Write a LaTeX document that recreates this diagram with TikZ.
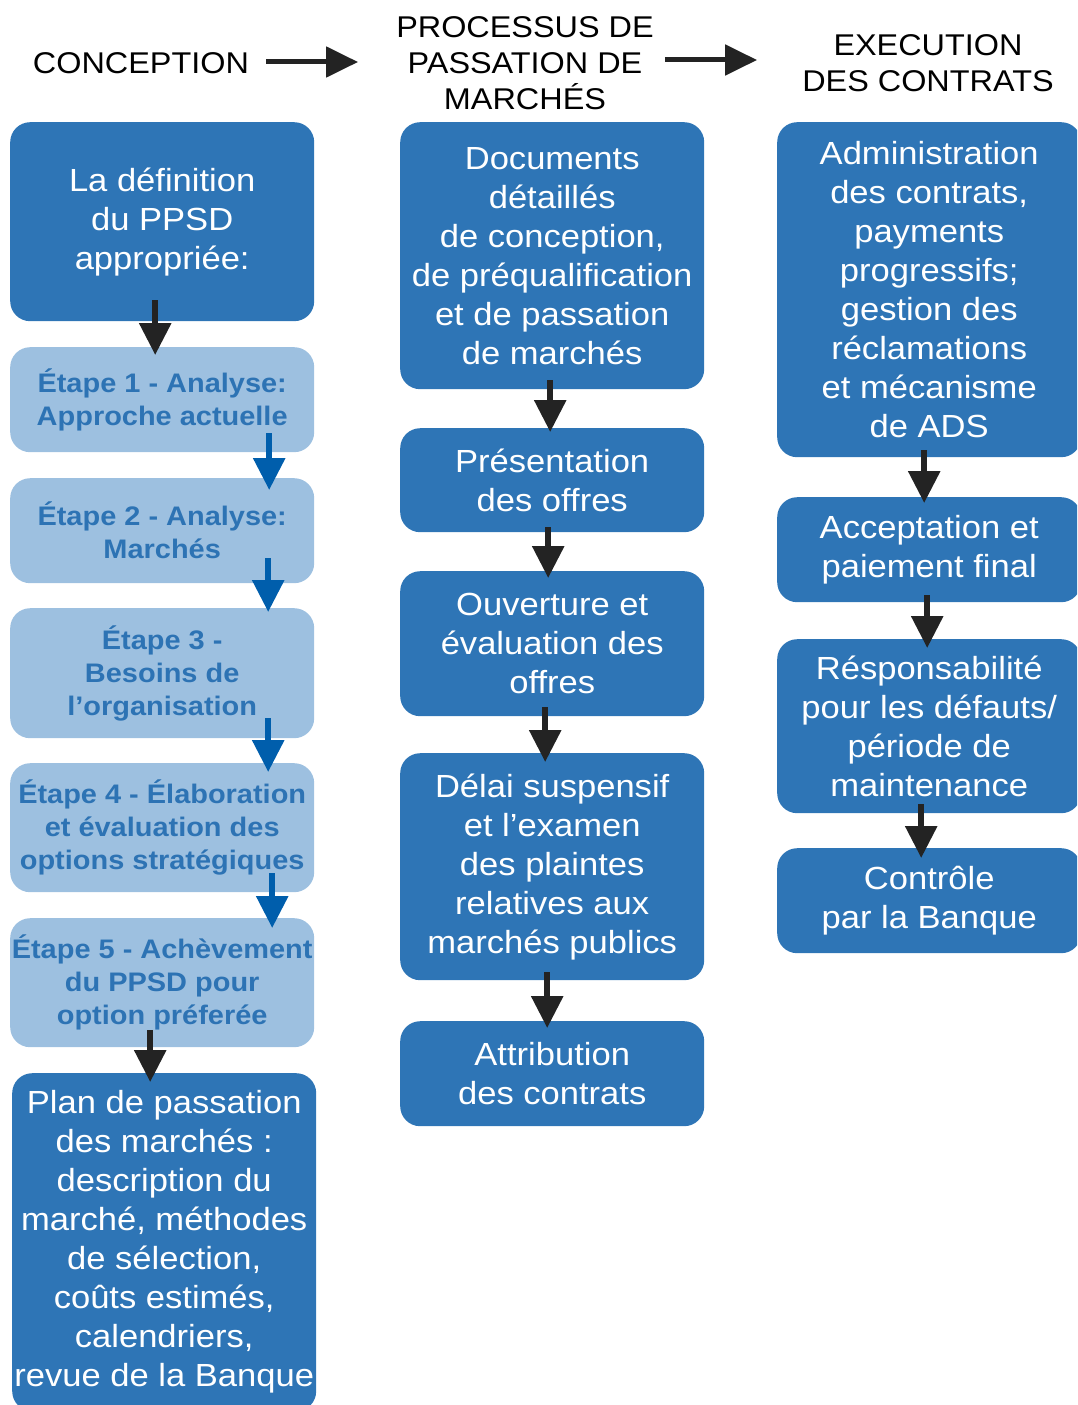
\documentclass[tikz,border=0pt]{standalone}
\usepackage{fontspec}
\setmainfont[FakeStretch=1.08]{Liberation Sans}
\usepackage{tikz}
\usepackage{xcolor}
\usetikzlibrary{positioning, arrows.meta}
\definecolor{phblue}{RGB}{46, 117, 182}
\definecolor{stlight}{RGB}{157, 192, 224}
\definecolor{sttext}{RGB}{45, 115, 180}
\definecolor{arblue}{RGB}{0, 94, 172}
\definecolor{ardark}{RGB}{35, 35, 35}
\tikzset{
    phasebox/.style={rectangle, rounded corners=20pt, fill=phblue, text=white, minimum width=304pt, inner sep=0pt, align=center, anchor=north west, font=\fontsize{32}{39}\selectfont},
    stepbox/.style={phasebox, fill=stlight, text=sttext, font=\bfseries\fontsize{26.8}{33}\selectfont},
    headnode/.style={align=center, inner sep=0pt, font=\fontsize{30}{36}\selectfont},
    darkarr/.style={-{Triangle[length=32pt, width=31pt]}, line width=6pt, draw=ardark},
    bluearr/.style={darkarr, draw=arblue},
    headarr/.style={-{Triangle[length=32pt, width=30pt]}, line width=5pt, draw=ardark}
}
\begin{document}
\begin{tikzpicture}[x=1pt, y=-1pt]
    \useasboundingbox (0,0) rectangle (1077,1405);
    \clip (0,0) rectangle (1077,1405);
    \node[headnode] (conc) at (141,63) {CONCEPTION};
    \node[headnode] (proc) at (525,63) {PROCESSUS DE\\PASSATION DE\\MARCHÉS};
    \node[headnode] (exec) at (928,63) {EXECUTION\\DES CONTRATS};
    \draw[headarr] ([shift={(17,-1)}]conc.east) -- ([shift={(-38,-1)}]proc.west);
    \draw[headarr] ([shift={(11,-3)}]proc.east) -- ([shift={(-45,-3)}]exec.west);

    \node[phasebox, minimum height=199pt] (def) at (10,122) {La définition\\du PPSD\\appropriée:};
    \node[stepbox, minimum height=105pt] (et1) at (10,347) {Étape 1 - Analyse:\\Approche actuelle};
    \node[stepbox, minimum height=105pt] (et2) at (10,478) {Étape 2 - Analyse:\\Marchés};
    \node[stepbox, minimum height=130pt] (et3) at (10,608) {Étape 3 -\\Besoins de\\l’organisation};
    \node[stepbox, minimum height=129pt] (et4) at (10,763) {Étape 4 - Élaboration\\et évaluation des\\options stratégiques};
    \node[stepbox, minimum height=129pt] (et5) at (10,918) {Étape 5 - Achèvement\\du PPSD pour\\option préferée};
    \node[phasebox, minimum height=338pt] (plan) at (12,1073) {Plan de passation\\des marchés :\\description du\\marché, méthodes\\de sélection,\\coûts estimés,\\calendriers,\\revue de la Banque};

    \node[phasebox, minimum height=267pt] (docs) at (400,122) {Documents\\détaillés\\de conception,\\de préqualification\\et de passation\\de marchés};
    \node[phasebox, minimum height=104pt] (pres) at (400,428) {Présentation\\des offres};
    \node[phasebox, minimum height=145pt] (ouv) at (400,571) {Ouverture et\\évaluation des\\offres};
    \node[phasebox, minimum height=227pt] (delai) at (400,753) {Délai suspensif\\et l’examen\\des plaintes\\relatives aux\\marchés publics};
    \node[phasebox, minimum height=105pt] (attr) at (400,1021) {Attribution\\des contrats};

    \node[phasebox, minimum height=335pt] (admin) at (777,122) {Administration\\des contrats,\\payments\\progressifs;\\gestion des\\réclamations\\et mécanisme\\de ADS};
    \node[phasebox, minimum height=105pt] (accept) at (777,497) {Acceptation et\\paiement final};
    \node[phasebox, minimum height=174pt] (resp) at (777,639) {Résponsabilité\\pour les défauts/\\période de\\maintenance};
    \node[phasebox, minimum height=105pt] (ctrl) at (777,848) {Contrôle\\par la Banque};

    \draw[darkarr] ([shift={(-7,-21)}]def.south) -- ([shift={(-7,8)}]et1.north);
    \draw[bluearr] ([shift={(107,-19)}]et1.south) -- ([shift={(107,12)}]et2.north);
    \draw[bluearr] ([shift={(106,-25)}]et2.south) -- ([shift={(106,4)}]et3.north);
    \draw[bluearr] ([shift={(106,-20)}]et3.south) -- ([shift={(106,9)}]et4.north);
    \draw[bluearr] ([shift={(110,-19)}]et4.south) -- ([shift={(110,10)}]et5.north);
    \draw[darkarr] ([shift={(-12,-17)}]et5.south) -- ([shift={(-14,9)}]plan.north);

    \draw[darkarr] ([shift={(-2,-9)}]docs.south) -- ([shift={(-2,4)}]pres.north);
    \draw[darkarr] ([shift={(-4,-5)}]pres.south) -- ([shift={(-4,7)}]ouv.north);
    \draw[darkarr] ([shift={(-7,-9)}]ouv.south) -- ([shift={(-7,9)}]delai.north);
    \draw[darkarr] ([shift={(-5,-8)}]delai.south) -- ([shift={(-5,7)}]attr.north);

    \draw[darkarr] ([shift={(-5,-7)}]admin.south) -- ([shift={(-5,6)}]accept.north);
    \draw[darkarr] ([shift={(-2,-7)}]accept.south) -- ([shift={(-2,9)}]resp.north);
    \draw[darkarr] ([shift={(-8,-9)}]resp.south) -- ([shift={(-8,10)}]ctrl.north);
\end{tikzpicture}
\end{document}
